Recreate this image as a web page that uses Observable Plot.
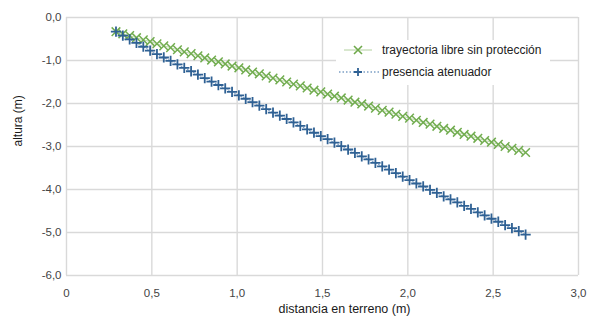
<!DOCTYPE html>
<html>
<head>
<meta charset="utf-8">
<script src="https://cdn.jsdelivr.net/npm/d3@7"></script>
<script src="https://cdn.jsdelivr.net/npm/@observablehq/plot@0.6"></script>
<style>
  html, body { margin: 0; padding: 0; background: #fff; }
  #wrap { position: relative; width: 590px; height: 320px; font-family: "Liberation Sans", Arial, sans-serif; }
  #legend { position: absolute; left: 336px; top: 40px; width: 214px; height: 45px; background: #fff; font-size: 12px; color: #222; }
  .item { position: absolute; left: 0; height: 16px; display: flex; align-items: center; }
  .item svg { margin-right: 2px; }
</style>
</head>
<body>
<div id="wrap">
  <div id="chart"></div>
  <div id="legend">
    <div class="item" style="top:2px;"><svg width="44" height="16"><line x1="8" x2="36" y1="8" y2="8" stroke="#7fb35d" stroke-width="1" stroke-opacity="0.6"/><path d="M18,4L26,12M26,4L18,12" stroke="#6ea84a" stroke-width="1.6"/></svg><span>trayectoria libre sin protección</span></div>
    <div class="item" style="top:24px;"><svg width="44" height="16"><line x1="3" x2="44" y1="8" y2="8" stroke="#3a6fa8" stroke-width="1.2" stroke-dasharray="1.5,2"/><path d="M22,4L22,12M18,8L26,8" stroke="#2f6194" stroke-width="1.8"/></svg><span>presencia atenuador</span></div>
  </div>
</div>
<script>
const distancia = [0.29,0.33,0.37,0.41,0.45,0.49,0.53,0.57,0.61,0.65,0.69,0.73,0.77,0.81,0.85,0.89,0.93,0.97,1.01,1.05,1.09,1.13,1.17,1.21,1.25,1.29,1.33,1.37,1.41,1.45,1.49,1.53,1.57,1.61,1.65,1.69,1.73,1.77,1.81,1.85,1.89,1.93,1.97,2.01,2.05,2.09,2.13,2.17,2.21,2.25,2.29,2.33,2.37,2.41,2.45,2.49,2.53,2.57,2.61,2.65,2.69];
const alturaLibre = [-0.33,-0.38,-0.42,-0.47,-0.52,-0.56,-0.61,-0.66,-0.70,-0.75,-0.80,-0.84,-0.89,-0.94,-0.99,-1.03,-1.08,-1.13,-1.17,-1.22,-1.27,-1.31,-1.36,-1.41,-1.45,-1.50,-1.55,-1.59,-1.64,-1.69,-1.73,-1.78,-1.83,-1.87,-1.92,-1.97,-2.01,-2.06,-2.11,-2.16,-2.20,-2.25,-2.30,-2.34,-2.39,-2.44,-2.48,-2.53,-2.58,-2.62,-2.67,-2.72,-2.76,-2.81,-2.86,-2.90,-2.95,-3.00,-3.04,-3.09,-3.14];
const alturaAtenuador = [-0.33,-0.42,-0.51,-0.59,-0.68,-0.77,-0.85,-0.93,-1.01,-1.09,-1.17,-1.25,-1.33,-1.41,-1.49,-1.57,-1.65,-1.73,-1.81,-1.89,-1.97,-2.05,-2.13,-2.21,-2.28,-2.36,-2.44,-2.52,-2.60,-2.68,-2.76,-2.83,-2.91,-2.99,-3.07,-3.15,-3.23,-3.30,-3.38,-3.46,-3.54,-3.62,-3.70,-3.78,-3.86,-3.93,-4.01,-4.08,-4.16,-4.23,-4.30,-4.38,-4.45,-4.53,-4.60,-4.68,-4.75,-4.83,-4.90,-4.97,-5.05];
const xTicks = [0, 0.5, 1.0, 1.5, 2.0, 2.5, 3.0];
const yTicks = [0, -1, -2, -3, -4, -5, -6];
const xLabel = "distancia en terreno (m)";
const yLabel = "altura (m)";

const libre = distancia.map((d, i) => ({x: d, y: alturaLibre[i]}));
const atenuador = distancia.map((d, i) => ({x: d, y: alturaAtenuador[i]}));
const comma = (v) => v.toFixed(1).replace(".", ",");

const chart = Plot.plot({
  width: 590,
  height: 320,
  marginLeft: 66,
  marginRight: 12,
  marginTop: 17,
  marginBottom: 45,
  style: {fontFamily: '"Liberation Sans", Arial, sans-serif', fontSize: "11.5px", color: "#333", background: "#fff"},
  x: {domain: [0, 3]},
  y: {domain: [-6, 0]},
  marks: [
    Plot.gridX(xTicks, {stroke: "#d9d9d9", strokeOpacity: 1, strokeWidth: 1.4}),
    Plot.gridY(yTicks, {stroke: "#d9d9d9", strokeOpacity: 1, strokeWidth: 1.4}),
    Plot.axisX({ticks: xTicks, tickSize: 0, tickPadding: 13, tickFormat: d => d === 0 ? "0" : comma(d), label: null, fill: "#444"}),
    Plot.axisY({ticks: yTicks, tickSize: 0, tickPadding: 5, tickFormat: comma, label: null, fill: "#444", letterSpacing: "0.6px"}),
    Plot.text([yLabel], {frameAnchor: "left", rotate: -90, dx: -48, fontSize: 12, fill: "#1a1a1a"}),
    Plot.text([xLabel], {frameAnchor: "bottom", dy: 37, dx: 22, fontSize: 12.5, fill: "#1a1a1a"}),
    Plot.line(atenuador, {x: "x", y: "y", stroke: "#3a6fa8", strokeWidth: 1, strokeDasharray: "1.5,2", strokeOpacity: 0.7}),
    Plot.line(libre, {x: "x", y: "y", stroke: "#7fb35d", strokeWidth: 1, strokeOpacity: 0.5}),
    Plot.dot(libre, {x: "x", y: "y", symbol: "times", r: 4, stroke: "#72ad50", strokeWidth: 1.5}),
    Plot.dot(atenuador, {x: "x", y: "y", symbol: "plus", r: 3.4, stroke: "#2f6194", strokeWidth: 1.8})
  ]
});
document.getElementById("chart").appendChild(chart);
</script>
</body>
</html>
